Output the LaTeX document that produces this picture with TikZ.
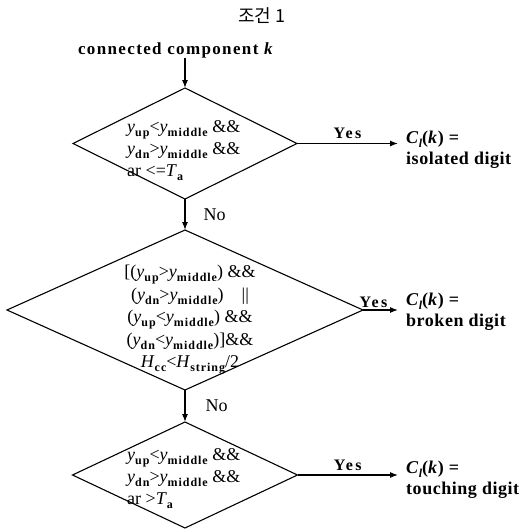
\documentclass[tikz,border=0pt]{standalone}
\usepackage{fontspec}
\setmainfont{Liberation Serif}
\newfontfamily\krfont{Noto Sans CJK KR}
\usetikzlibrary{shapes.geometric,arrows.meta}

% variable with a bold upright subscript
\newcommand\var[2]{\textit{#1}\raisebox{-0.5ex}{\fontsize{12}{12}\selectfont\bfseries\addfontfeature{LetterSpace=8}#2}}
\newcommand\lbl{\textit{C}\raisebox{-0.45ex}{\fontsize{12}{12}\selectfont\itshape l}(\textit{k}) =}

\begin{document}
\begin{tikzpicture}[x=1pt,y=-1pt,
  decision/.style={draw, diamond, inner sep=0pt, outer sep=0pt, line width=1.1pt},
  cond/.style={font=\fontsize{18}{22}\selectfont, align=left, inner sep=0pt},
  condc/.style={font=\fontsize{18}{22.5}\selectfont, align=center, inner sep=0pt},
  result/.style={font=\bfseries\fontsize{18}{21}\selectfont\addfontfeature{LetterSpace=3}, align=left, anchor=west, inner sep=0pt},
  answer/.style={font=\fontsize{18}{18}\selectfont, inner sep=0pt},
  yes/.style={answer, font=\bfseries\fontsize{16}{16}\selectfont\addfontfeature{LetterSpace=14}},
  flow/.style={-{Latex[length=8pt,width=6pt]}, line width=1.1pt}]
\useasboundingbox (0,0) rectangle (522,531);

\node[font=\krfont\fontsize{18}{18}\selectfont] (title) at (262,16) {조건 1};
\node[font=\bfseries\fontsize{17}{17}\selectfont\addfontfeature{LetterSpace=8}, inner sep=0pt] (start) at (176,50) {connected component \textit{k}};

% decisions
\node[decision, minimum width=224pt, minimum height=111pt] (d1) at (185,143.5) {};
\node[decision, minimum width=356pt, minimum height=160pt] (d2) at (185,310) {};
\node[decision, minimum width=225pt, minimum height=106pt] (d3) at (185,475) {};

\node[cond, anchor=west] (t1) at (127,151) {\var{y}{up}<\var{y}{middle} \&\&\\
  \var{y}{dn}>\var{y}{middle} \&\&\\
  ar <=\var{T}{a}};
\node[condc] (t2) at (190,320) {[(\var{y}{up}>\var{y}{middle}) \&\&\\
  (\var{y}{dn}>\var{y}{middle})\quad ||\\
  (\var{y}{up}<\var{y}{middle}) \&\&\\
  (\var{y}{dn}<\var{y}{middle})]\&\&\\
  \var{H}{cc}<\var{H}{string}/2};
\node[cond, anchor=west] (t3) at (127,479) {\var{y}{up}<\var{y}{middle} \&\&\\
  \var{y}{dn}>\var{y}{middle} \&\&\\
  ar >\var{T}{a}};

% results
\node[result] (r1) at (406,150) {\lbl\\isolated digit};
\node[result] (r2) at (406,312) {\lbl\\broken digit};
\node[result] (r3) at (406,480) {\lbl\\touching digit};

% connectors
\draw[flow] (d1.north |- start.south) -- (d1.north);
\draw[flow] (d1.south) -- node[answer, right=18pt] {No} (d2.north);
\draw[flow] (d2.south) -- node[answer, right=20pt] {No} (d3.north);
\draw[flow] (d1.east) -- node[yes, above=4pt] {Yes} ([xshift=-8pt]r1.west |- d1.east);
\draw[flow] (d2.east) -- node[yes, above=2pt, pos=0.3] {Yes} ([xshift=-8pt]r2.west |- d2.east);
\draw[flow] (d3.east) -- node[yes, above=4pt] {Yes} ([xshift=-8pt]r3.west |- d3.east);
\end{tikzpicture}
\end{document}
